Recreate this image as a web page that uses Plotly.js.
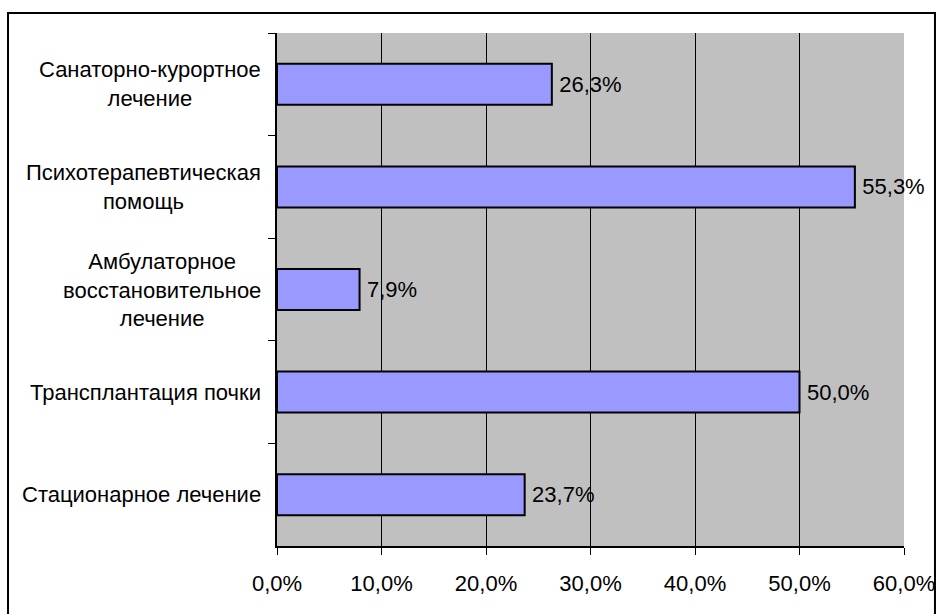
<!DOCTYPE html>
<html>
<head>
<meta charset="utf-8">
<script src="https://cdn.plot.ly/plotly-3.0.1.min.js"></script>
<style>
html,body{margin:0;padding:0;background:#fff;}
#chart{width:937px;height:614px;}
</style>
</head>
<body>
<div id="chart"></div>
<script>
const categories = [
  "Санаторно-курортное лечение",
  "Психотерапевтическая помощь",
  "Амбулаторное восстановительное лечение",
  "Трансплантация почки",
  "Стационарное лечение"
];
const categoryLabels = [
  "Санаторно-курортное<br>лечение",
  "Психотерапевтическая<br>помощь",
  "Амбулаторное<br>восстановительное<br>лечение",
  "Трансплантация почки",
  "Стационарное лечение"
];
const values = [26.3, 55.3, 7.9, 50.0, 23.7];
const xTicks = [0, 10, 20, 30, 40, 50, 60];
const xTickLabels = ["0,0%", "10,0%", "20,0%", "30,0%", "40,0%", "50,0%", "60,0%"];

const FONT = {family: '"Liberation Sans", Arial, sans-serif', size: 22, color: '#000'};

const trace = {
  type: 'bar',
  orientation: 'h',
  y: categories,
  x: values,
  marker: {color: '#9999ff', line: {color: '#000', width: 2}},
  texttemplate: '\u2009%{x:.1f}%',
  textposition: 'outside',
  constraintext: 'none',
  cliponaxis: false,
  textfont: FONT,
  hoverinfo: 'skip'
};

const annotations = categories.map((c, i) => ({
  xref: 'paper', yref: 'y',
  x: 0, y: c,
  xanchor: 'right', yanchor: 'middle',
  xshift: -14,
  align: 'center',
  text: categoryLabels[i],
  showarrow: false,
  font: FONT
}));

const layout = {
  width: 937, height: 614,
  margin: {l: 277, r: 33, t: 33, b: 68},
  paper_bgcolor: '#fff',
  plot_bgcolor: '#c0c0c0',
  font: FONT,
  separators: ', ',
  showlegend: false,
  bargap: 0.6,
  xaxis: {
    range: [0, 60],
    tickmode: 'array',
    tickvals: xTicks,
    ticktext: xTickLabels,
    showgrid: true,
    gridcolor: '#000',
    gridwidth: 1,
    zeroline: false,
    showline: true,
    linecolor: '#000',
    linewidth: 1.5,
    ticks: 'outside',
    ticklen: 7,
    tickcolor: '#000',
    ticklabelstandoff: 10,
    tickfont: FONT,
    fixedrange: true
  },
  yaxis: {
    type: 'category',
    autorange: 'reversed',
    showticklabels: false,
    tickson: 'boundaries',
    ticks: 'outside',
    ticklen: 7,
    tickcolor: '#000',
    showgrid: false,
    zeroline: false,
    showline: true,
    linecolor: '#000',
    linewidth: 2,
    fixedrange: true
  },
  annotations: annotations,
  shapes: [{
    type: 'rect', xref: 'paper', yref: 'paper',
    x0: -0.4290, x1: 1.0494, y0: -0.2, y1: 1.0390,
    line: {color: '#000', width: 2}, layer: 'above'
  }]
};

Plotly.newPlot('chart', [trace], layout, {displayModeBar: false, staticPlot: true});
</script>
</body>
</html>
